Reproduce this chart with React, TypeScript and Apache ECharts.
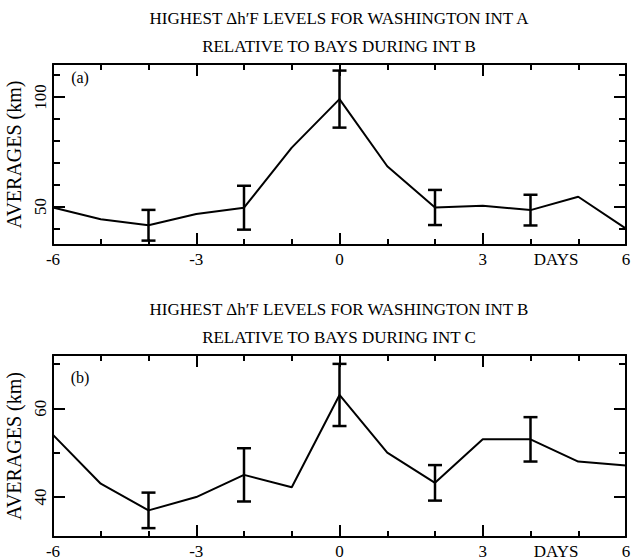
import React, { useEffect, useRef } from "react";
import * as echarts from "echarts";

const days = [-6, -5, -4, -3, -2, -1, 0, 1, 2, 3, 4, 5, 6];
const valuesA = [49.6, 44.2, 41.5, 46.6, 49.5, 76.9, 99, 68.4, 49.6, 50.4, 48.4, 54.5, 40];
const valuesB = [54, 43, 37, 40, 45, 42.2, 63, 50, 43.2, 53, 53, 48, 47.1];
const errDaysA = [-4, -2, 0, 2, 4];
const errSizeA = [7, 10, 13, 8, 7];
const errDaysB = [-4, -2, 0, 2, 4];
const errSizeB = [4, 6, 7, 4, 5];
const xMajor = [-6, -3, 0, 3, 6];
const xMinor = [-5, -4, -2, -1, 1, 2, 4, 5];
const yMajorA = [50, 100];
const yMinorA = [40, 60, 70, 80, 90, 110];
const yMajorB = [40, 60];
const yMinorB = [50, 70];
const titlesA = ["HIGHEST \u0394h\u2032F LEVELS FOR WASHINGTON INT A", "RELATIVE TO BAYS DURING INT B"];
const titlesB = ["HIGHEST \u0394h\u2032F LEVELS FOR WASHINGTON INT B", "RELATIVE TO BAYS DURING INT C"];

const FONT = "'Liberation Serif', 'Times New Roman', serif";
const BLACK = "#000";

export default function App() {
  const ref = useRef<HTMLDivElement>(null);
  useEffect(() => {
    if (!ref.current) return;
    const chart = echarts.init(ref.current, null, { renderer: "svg" });

    const grids = [
      { left: 53, right: 5, top: 64, height: 181, containLabel: false, outerBoundsMode: "none" },
      { left: 53, right: 5, top: 355, height: 182, containLabel: false, outerBoundsMode: "none" },
    ];

    const xAxes: any[] = [];
    const yAxes: any[] = [];
    const ranges = [
      { min: 32.5, max: 115, major: yMajorA, minor: yMinorA },
      { min: 31, max: 72, major: yMajorB, minor: yMinorB },
    ];

    grids.forEach((_, g) => {
      ["bottom", "top"].forEach((pos) => {
        xAxes.push({
          type: "value",
          gridIndex: g,
          position: pos,
          min: -6,
          max: 6,
          axisLine: { show: true, onZero: false, lineStyle: { color: BLACK, width: 2 } },
          axisTick: { show: true, inside: true, length: 12, customValues: xMajor, lineStyle: { color: BLACK, width: 2 } },
          splitLine: { show: false },
          axisLabel: {
            show: pos === "bottom",
            customValues: xMajor,
            color: BLACK,
            fontFamily: FONT,
            fontSize: 17,
            lineHeight: 14,
            margin: 7,
            formatter: (v: number) => String(v),
          },
        });
        xAxes.push({
          type: "value",
          gridIndex: g,
          position: pos,
          min: -6,
          max: 6,
          axisLine: { show: false, onZero: false },
          axisTick: { show: true, inside: true, length: 6, customValues: xMinor, lineStyle: { color: BLACK, width: 2 } },
          splitLine: { show: false },
          axisLabel: { show: false },
        });
      });
      const r = ranges[g];
      ["left", "right"].forEach((pos) => {
        yAxes.push({
          type: "value",
          gridIndex: g,
          position: pos,
          min: r.min,
          max: r.max,
          name: pos === "left" ? "AVERAGES (km)" : "",
          nameLocation: "middle",
          nameRotate: 90,
          nameGap: 23,
          nameTextStyle: { color: BLACK, fontFamily: FONT, fontSize: 20 },
          axisLine: { show: true, onZero: false, lineStyle: { color: BLACK, width: 2 } },
          axisTick: { show: true, inside: true, length: 12, customValues: r.major, lineStyle: { color: BLACK, width: 2 } },
          splitLine: { show: false },
          axisLabel: {
            show: pos === "left",
            customValues: r.major,
            rotate: 90,
            color: BLACK,
            fontFamily: FONT,
            fontSize: 17,
            margin: 4,
          },
        });
        yAxes.push({
          type: "value",
          gridIndex: g,
          position: pos,
          min: r.min,
          max: r.max,
          axisLine: { show: false, onZero: false },
          axisTick: { show: true, inside: true, length: 7, customValues: r.minor, lineStyle: { color: BLACK, width: 2 } },
          splitLine: { show: false },
          axisLabel: { show: false },
        });
      });
    });

    const makeErr = (eDays: number[], eSize: number[], vals: number[]) =>
      eDays.map((d, i) => [d, vals[days.indexOf(d)], eSize[i]]);

    const renderErr = (params: any, api: any) => {
      const x = api.value(0);
      const y = api.value(1);
      const e = api.value(2);
      const top = api.coord([x, y + e]);
      const bot = api.coord([x, y - e]);
      const hw = 7;
      const style = { stroke: BLACK, lineWidth: 2.5 };
      return {
        type: "group",
        children: [
          { type: "line", shape: { x1: top[0], y1: top[1], x2: bot[0], y2: bot[1] }, style },
          { type: "line", shape: { x1: top[0] - hw, y1: top[1], x2: top[0] + hw, y2: top[1] }, style },
          { type: "line", shape: { x1: bot[0] - hw, y1: bot[1], x2: bot[0] + hw, y2: bot[1] }, style },
        ],
      };
    };

    const series: any[] = [
      {
        type: "line",
        xAxisIndex: 0,
        yAxisIndex: 0,
        data: days.map((d, i) => [d, valuesA[i]]),
        showSymbol: false,
        symbol: "none",
        lineStyle: { color: BLACK, width: 2 },
      },
      {
        type: "custom",
        xAxisIndex: 0,
        yAxisIndex: 0,
        data: makeErr(errDaysA, errSizeA, valuesA),
        renderItem: renderErr,
        clip: false,
      },
      {
        type: "line",
        xAxisIndex: 4,
        yAxisIndex: 4,
        data: days.map((d, i) => [d, valuesB[i]]),
        showSymbol: false,
        symbol: "none",
        lineStyle: { color: BLACK, width: 2 },
      },
      {
        type: "custom",
        xAxisIndex: 4,
        yAxisIndex: 4,
        data: makeErr(errDaysB, errSizeB, valuesB),
        renderItem: renderErr,
        clip: false,
      },
    ];

    const textStyle = (s: string, fs: number) => ({
      text: s,
      fill: BLACK,
      fontFamily: FONT,
      fontSize: fs,
      lineHeight: 14,
      textAlign: "center",
      textVerticalAlign: "middle",
    });

    const graphic: any[] = [
      { type: "text", x: 339, y: 18, style: textStyle(titlesA[0], 17) },
      { type: "text", x: 339, y: 46, style: textStyle(titlesA[1], 17) },
      { type: "text", x: 339, y: 309, style: textStyle(titlesB[0], 17) },
      { type: "text", x: 339, y: 337, style: textStyle(titlesB[1], 17) },
      { type: "text", x: 80, y: 77, style: textStyle("(a)", 16) },
      { type: "text", x: 80, y: 377, style: textStyle("(b)", 16) },
      { type: "text", x: 556, y: 259, style: textStyle("DAYS", 17) },
      { type: "text", x: 556, y: 551, style: textStyle("DAYS", 17) },
    ];

    chart.setOption({
      animation: false,
      backgroundColor: "#fff",
      grid: grids,
      xAxis: xAxes,
      yAxis: yAxes,
      series,
      graphic,
    });
    return () => chart.dispose();
  }, []);

  return (
    <div
      ref={ref}
      style={{ position: "fixed", left: 0, top: 0, width: 631, height: 559, background: "#fff" }}
    />
  );
}
